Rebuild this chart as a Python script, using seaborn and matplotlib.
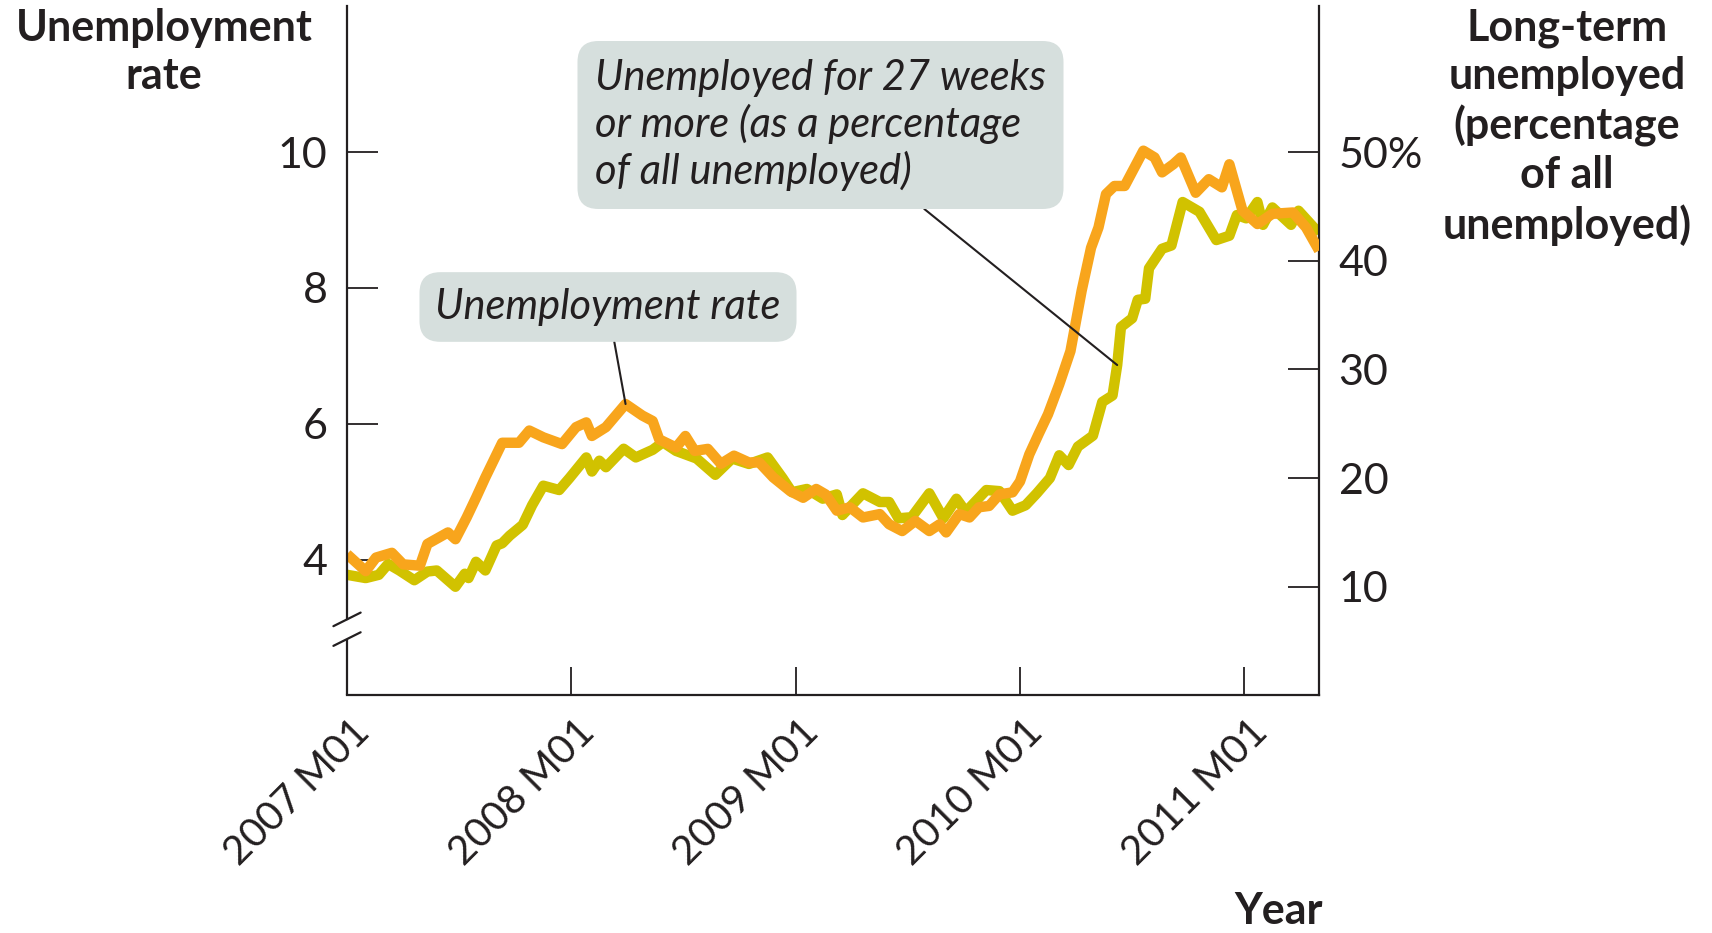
import numpy as np
import matplotlib
matplotlib.use('Agg')
import matplotlib.pyplot as plt
import matplotlib.transforms as mtransforms
import seaborn as sns

# months since 2007 M01 (points are uneven on purpose)
rate_months = [0.0, 1.0, 1.55, 2.4, 3.0, 3.9, 4.3, 5.4, 5.8, 6.4,
               6.9, 7.4, 8.3, 9.2, 9.75, 10.5, 11.5, 12.25, 12.8, 13.1,
               13.85, 14.9, 15.8, 16.35, 16.7, 17.6, 18.1, 18.6, 19.3, 20.0,
               20.7, 21.5, 22.05, 22.8, 23.7, 24.4, 25.1, 25.6, 26.2, 26.9,
               27.6, 28.5, 29.0, 29.7, 30.4, 31.15, 31.7, 32.05, 32.75, 33.3,
               33.8, 34.35, 34.9, 35.6, 36.0, 36.5, 37.0, 37.5, 38.1, 38.7,
               39.3, 39.8, 40.2, 40.6, 41.05, 41.6, 42.6, 43.2, 43.6, 44.2,
               44.6, 45.4, 46.1, 46.8, 47.2, 47.9, 48.7, 49.5, 50.6, 51.3,
               52.0]
rate_values = [4.08, 3.83, 4.03, 4.10, 3.93, 3.91, 4.23, 4.40, 4.30, 4.62,
               4.91, 5.21, 5.72, 5.72, 5.90, 5.80, 5.70, 5.95, 6.02, 5.82,
               5.95, 6.29, 6.12, 6.04, 5.77, 5.65, 5.82, 5.60, 5.63, 5.41,
               5.53, 5.43, 5.43, 5.21, 5.01, 4.91, 5.04, 4.96, 4.72, 4.77,
               4.62, 4.67, 4.52, 4.42, 4.57, 4.42, 4.52, 4.40, 4.67, 4.62,
               4.77, 4.79, 4.96, 4.99, 5.15, 5.55, 5.85, 6.14, 6.58, 7.07,
               7.96, 8.59, 8.89, 9.38, 9.50, 9.50, 10.02, 9.92, 9.70, 9.82,
               9.92, 9.40, 9.60, 9.48, 9.82, 9.14, 8.94, 9.09, 9.11, 8.89,
               8.55]

longterm_months = [0.0, 1.0, 1.7, 2.2, 2.8, 3.6, 4.3, 4.8, 5.8, 6.3,
                   6.5, 6.9, 7.4, 8.0, 8.3, 8.7, 9.4, 9.9, 10.5, 11.35,
                   11.9, 12.8, 13.1, 13.5, 13.85, 14.8, 15.45, 16.35, 16.9, 17.6,
                   18.7, 19.7, 20.6, 21.5, 22.5, 23.3, 23.8, 24.6, 25.45, 26.2,
                   26.5, 27.6, 28.5, 29.0, 29.5, 30.2, 31.15, 31.9, 32.6, 33.1,
                   34.2, 34.9, 35.6, 36.3, 36.9, 37.6, 38.1, 38.6, 39.1, 39.9,
                   40.4, 40.95, 41.2, 41.4, 42.0, 42.3, 42.7, 42.9, 43.6, 44.1,
                   44.7, 45.6, 46.5, 47.2, 47.6, 48.1, 48.7, 49.0, 49.5, 50.5,
                   50.9, 51.8, 52.0]
longterm_values = [11.1, 10.8, 11.1, 12.1, 11.5, 10.6, 11.4, 11.5, 10.0, 11.2,
                   10.8, 12.3, 11.5, 13.8, 14.0, 14.7, 15.7, 17.5, 19.3, 18.9,
                   20.0, 21.9, 20.6, 21.6, 21.0, 22.7, 21.9, 22.6, 23.3, 22.5,
                   21.8, 20.3, 21.8, 21.3, 21.9, 20.0, 18.7, 19.0, 18.1, 18.5,
                   16.6, 18.6, 17.8, 17.8, 16.3, 16.4, 18.6, 16.3, 18.1, 16.9,
                   18.9, 18.8, 17.0, 17.5, 18.6, 20.0, 22.1, 21.2, 22.9, 23.9,
                   27.0, 27.6, 30.4, 33.9, 34.7, 36.4, 36.5, 39.3, 41.1, 41.4,
                   45.4, 44.5, 41.9, 42.3, 44.2, 43.9, 45.4, 43.3, 44.9, 43.3,
                   44.6, 42.9, 42.5]

year_ticks = [0, 12, 24, 36, 48]
year_labels = ['2007 M01', '2008 M01', '2009 M01', '2010 M01', '2011 M01']
left_ticks = [4, 6, 8, 10]
right_ticks = [10, 20, 30, 40, 50]
right_labels = ['10', '20', '30', '40', '50%']

ORANGE = '#f8a51c'
OLIVE = '#d1c200'
BOX = '#d6dfdd'
INK = '#231f20'

sns.set_style('white')
plt.rcParams['font.family'] = ['Lato', 'DejaVu Sans']
plt.rcParams['text.color'] = INK

fig = plt.figure(figsize=(17.12, 9.33), dpi=100)
ax = fig.add_axes([0.2027, 0.2546, 0.5678, 0.739])
ax2 = ax.twinx()

left_lo, left_hi = 2.0, 12.15
ax.set_xlim(0, 52)
ax.set_ylim(left_lo, left_hi)
# right axis is the same scale: 2 -> 0 %, 10 -> 50 %
ax2.set_ylim(0, (left_hi - left_lo) * 6.25)

sns.lineplot(x=longterm_months, y=longterm_values, ax=ax2, color=OLIVE,
             lw=7.5, sort=False, solid_joinstyle='round', solid_capstyle='butt')
sns.lineplot(x=rate_months, y=rate_values, ax=ax, color=ORANGE,
             lw=7.5, sort=False, solid_joinstyle='round', solid_capstyle='butt')
ax.set_zorder(ax2.get_zorder() + 1)
ax.patch.set_visible(False)

# spines
for s in ['top', 'right']:
    ax.spines[s].set_visible(False)
for s in ['top', 'left', 'bottom']:
    ax2.spines[s].set_visible(False)
for sp in [ax.spines['left'], ax.spines['bottom'], ax2.spines['right']]:
    sp.set_color(INK)
    sp.set_linewidth(1.6)

# broken left axis
brk_hi, brk_lo = 3.12, 2.83
ax.spines['left'].set_bounds(brk_hi, left_hi)
blend = mtransforms.blended_transform_factory(ax.transAxes, ax.transData)
ax.plot([0, 0], [left_lo, brk_lo], transform=blend, color=INK, lw=1.6,
        clip_on=False, solid_capstyle='butt')
for yb in [brk_hi, brk_lo]:
    ax.plot([-0.014, 0.014], [yb - 0.1, yb + 0.1], transform=blend,
            color=INK, lw=1.6, clip_on=False)

# ticks
ax.set_xticks(year_ticks)
ax.set_xticklabels(year_labels, rotation=45, ha='right')
ax.set_yticks(left_ticks)
ax.set_yticklabels([str(t) for t in left_ticks])
ax2.set_yticks(right_ticks)
ax2.set_yticklabels(right_labels)
ax.tick_params(axis='y', direction='in', length=22, width=1.3, labelsize=31,
               pad=14, colors=INK, left=True)
ax.tick_params(axis='x', direction='in', length=20, width=1.3, labelsize=29,
               pad=13, colors=INK, bottom=True)
ax2.tick_params(axis='y', direction='in', length=22, width=1.3, labelsize=31,
                pad=14, colors=INK, right=True)
shift = mtransforms.ScaledTranslation(0.30, 0, fig.dpi_scale_trans)
for lab in ax.get_xticklabels():
    lab.set_transform(lab.get_transform() + shift)
ax.set_xlabel('')
ax.set_ylabel('')
ax2.set_ylabel('')

# callouts
early = [i for i, m in enumerate(rate_months) if m < 20]
i_peak = max(early, key=lambda i: rate_values[i])
ax.annotate('Unemployment rate', xy=(rate_months[i_peak], rate_values[i_peak]),
            xytext=(608, 626), textcoords='figure pixels', ha='center', va='center',
            fontsize=30, style='italic',
            bbox=dict(boxstyle='round,pad=0.38,rounding_size=0.5', fc=BOX, ec='none'),
            arrowprops=dict(arrowstyle='-', color=INK, lw=1.5, shrinkA=0, shrinkB=0))

j = longterm_months.index(41.2)
ax.annotate('Unemployed for 27 weeks\nor more (as a percentage\nof all unemployed)',
            xy=(longterm_months[j], longterm_values[j]), xycoords=ax2.transData,
            xytext=(595, 808), textcoords='figure pixels', ha='left', va='center',
            fontsize=30, style='italic', linespacing=1.22,
            bbox=dict(boxstyle='round,pad=0.42,rounding_size=0.5', fc=BOX, ec='none'),
            arrowprops=dict(arrowstyle='-', color=INK, lw=1.5, shrinkA=0, shrinkB=0))

# axis titles
fig.text(164 / 1712, 1 - 8 / 933, 'Unemployment\nrate', ha='center', va='top',
         fontsize=31, fontweight='bold', linespacing=1.25)
fig.text(1567 / 1712, 1 - 8 / 933,
         'Long-term\nunemployed\n(percentage\nof all\nunemployed)',
         ha='center', va='top', fontsize=31, fontweight='bold', linespacing=1.25)
fig.text(1323 / 1712, 2 / 933, 'Year', ha='right', va='bottom',
         fontsize=31, fontweight='bold')

fig.savefig('out.png', dpi=100)
